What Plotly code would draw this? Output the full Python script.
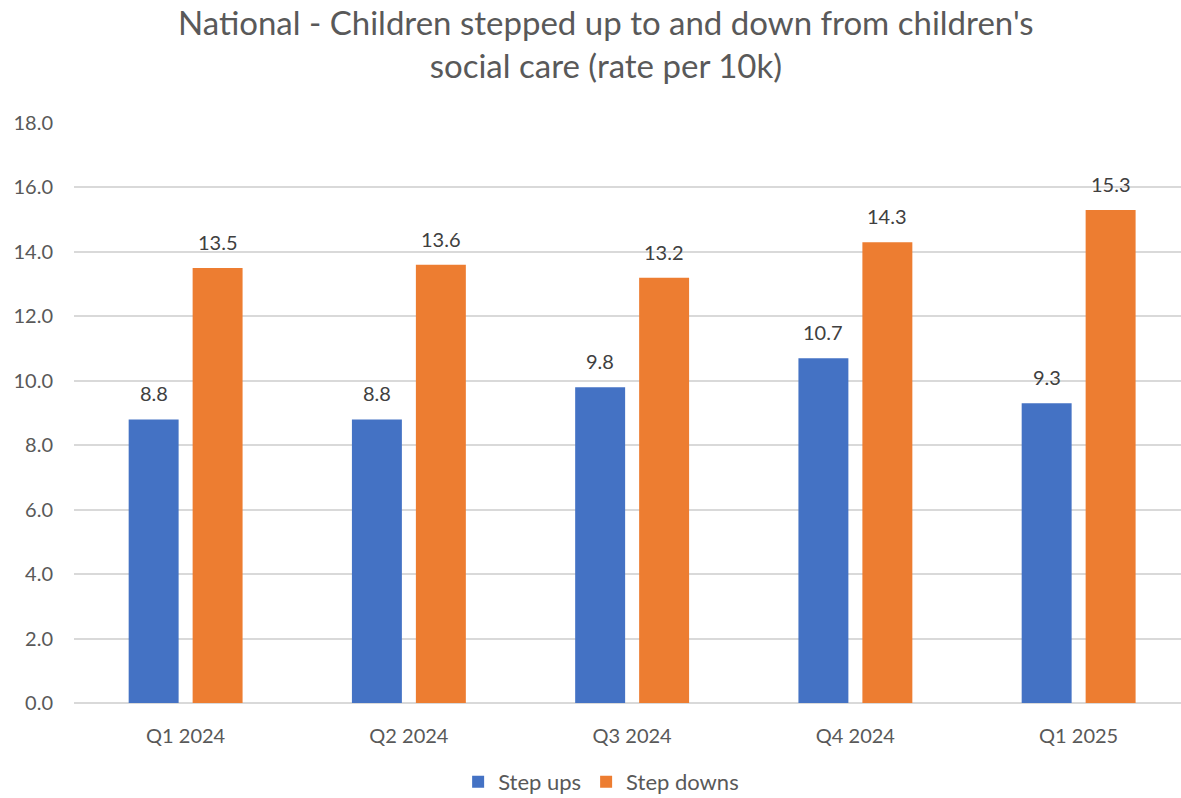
import plotly.graph_objects as go

# Quarterly rates per 10k children
quarters = ["Q1 2024", "Q2 2024", "Q3 2024", "Q4 2024", "Q1 2025"]
step_ups = [8.8, 8.8, 9.8, 10.7, 9.3]
step_downs = [13.5, 13.6, 13.2, 14.3, 15.3]
y_ticks = [0, 2, 4, 6, 8, 10, 12, 14, 16, 18]

BLUE = "#4472C4"
ORANGE = "#ED7D31"
GRID = "#D9D9D9"
TICK_TXT = "#595959"
LABEL_TXT = "#404040"
FONT = "Lato, Carlito, 'Open Sans', sans-serif"

fig = go.Figure()
fig.add_trace(go.Bar(name="Step ups", x=quarters, y=step_ups,
                     marker=dict(color=BLUE, line=dict(width=0))))
fig.add_trace(go.Bar(name="Step downs", x=quarters, y=step_downs,
                     marker=dict(color=ORANGE, line=dict(width=0))))

# value labels above each bar
for series, shift in ((step_ups, -32), (step_downs, 32)):
    for q, v in zip(quarters, series):
        fig.add_annotation(x=q, y=v, text=f"{v:.1f}", showarrow=False,
                           xshift=shift, yshift=26, yanchor="middle",
                           font=dict(family=FONT, size=20, color=LABEL_TXT))

fig.update_layout(
    width=1181, height=798,
    margin=dict(l=74, r=0, t=123, b=95),
    plot_bgcolor="white", paper_bgcolor="white",
    barmode="group", bargap=0.427, bargroupgap=0.219,
    title=dict(
        text="National - Children stepped up to and down from children's<br>social care (rate per 10k)",
        x=0.513, xanchor="center", xref="container",
        y=0.956, yanchor="top", yref="container",
        font=dict(family=FONT, size=33, color=TICK_TXT, weight=400),
    ),
    xaxis=dict(
        range=[-0.5, 4.4585], showgrid=False, showline=False, ticks="",
        tickfont=dict(family=FONT, size=20, color=TICK_TXT),
        ticklabelstandoff=19,
    ),
    yaxis=dict(
        range=[0, 18], tickvals=y_ticks, tickformat=".1f",
        showgrid=True, gridcolor=GRID, gridwidth=1.5,
        zeroline=True, zerolinecolor=GRID, zerolinewidth=1.5,
        showline=False, ticks="",
        tickfont=dict(family=FONT, size=20, color=TICK_TXT),
        ticklabelstandoff=20,
    ),
    legend=dict(
        orientation="h", x=0.509, xanchor="center", xref="container",
        y=0.02, yanchor="middle", yref="container",
        font=dict(family=FONT, size=22, color=TICK_TXT),
        itemwidth=30,
    ),
    showlegend=True,
)

fig.write_html("out.html")
